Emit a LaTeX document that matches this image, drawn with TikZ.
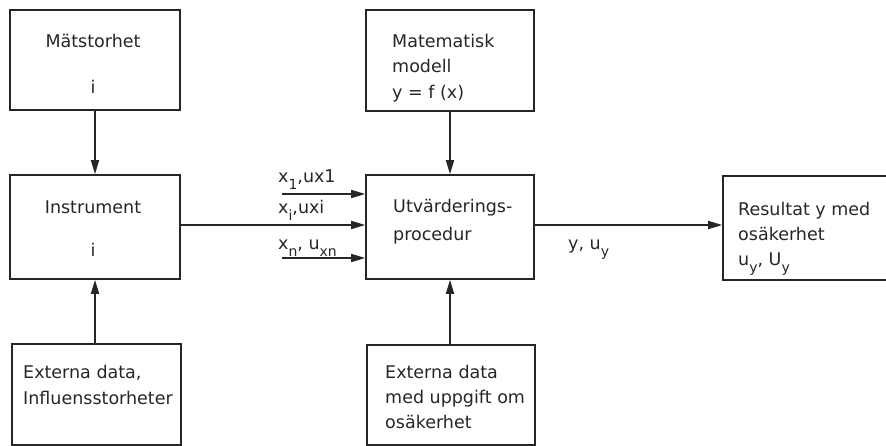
\documentclass[tikz,border=0pt]{standalone}
\usepackage{fontspec}
\setmainfont{DejaVu Sans}
\usetikzlibrary{arrows.meta, positioning}
\definecolor{ink}{HTML}{262626}
\newcommand{\lowidx}[1]{\raisebox{-0.4em}{\fontsize{14}{14}\selectfont #1}}

\begin{document}
\begin{tikzpicture}[x=1pt, y=-1pt,
    box/.style={draw=ink, line width=1.6pt, inner sep=0pt},
    txt/.style={font=\fontsize{17.5}{26}\selectfont, text=ink, inner sep=0pt,
        align=left, anchor=north west},
    lbl/.style={font=\fontsize{17.5}{20}\selectfont, text=ink, inner sep=0pt,
        anchor=base west},
    arr/.style={draw=ink, line width=1.6pt, -{Triangle[length=14pt,width=8pt]}}]
    \useasboundingbox (0,0) rectangle (886,446);
    \clip (0,0) rectangle (886,446);

    % left column
    \node[box, minimum width=170pt, minimum height=100pt] (mst) at (95,60) {};
    \node[box, minimum width=170pt, minimum height=104pt] (ins) at (95,227) {};
    \node[box, minimum width=169pt, minimum height=101pt] (extA) at (96.5,394.5) {};
    % middle column
    \node[box, minimum width=168pt, minimum height=101pt] (mod) at (450,60.5) {};
    \node[box, minimum width=168pt, minimum height=104pt] (utv) at (450,227) {};
    \node[box, minimum width=168pt, minimum height=100pt] (extB) at (451,395) {};
    % result box runs off the right edge
    \node[box, minimum width=182pt, minimum height=104pt] (res) at (814,228) {};

    \node[txt, align=center, anchor=north] (mstT) at (93,34) {Mätstorhet\\[20pt]i};
    \node[txt, align=center, anchor=north] (insT) at (93,201) {Instrument\\[17pt]i};
    \node[txt] (extAT) at (23,365) {Externa data,\\Influensstorheter};
    \node[txt, font=\fontsize{17.5}{25.5}\selectfont] (modT) at (392,34)
        {Matematisk\\modell\\y = f (x)};
    \node[txt, font=\fontsize{17.5}{28}\selectfont] (utvT) at (393,199)
        {Utvärderings-\\procedur};
    \node[txt, font=\fontsize{17.5}{25}\selectfont] (extBT) at (385,365)
        {Externa data\\med uppgift om\\osäkerhet};
    \node[txt, font=\fontsize{17.5}{25}\selectfont] (resT) at (738,202)
        {Resultat y med\\osäkerhet\\u\lowidx{y}, U\lowidx{y}};

    % inputs to the procedure
    \node[lbl] (x1L) at (278,183) {x\lowidx{1},ux1};
    \node[lbl] (xiL) at (278,214) {x\lowidx{i},uxi};
    \node[lbl] (xnL) at (278,250) {x\lowidx{n}, u\lowidx{xn}};
    \node[lbl] (yL) at (568,250) {y, u\lowidx{y}};

    \coordinate (x1s) at (282,194);
    \coordinate (xns) at (282,258);
    \draw[arr] (x1s) -- (x1s -| utv.west);
    \draw[arr] ([yshift=2pt]ins.east) -- ([yshift=2pt]utv.west);
    \draw[arr] (xns) -- (xns -| utv.west);

    \draw[arr] (mst) -- (ins);
    \draw[arr] (extA.north -| ins.south) -- (ins.south);
    \draw[arr] (mod) -- (utv);
    \draw[arr] (extB.north -| utv.south) -- (utv.south);
    \draw[arr] ([yshift=2pt]utv.east) -- ([yshift=2pt]utv.east -| res.west);

\end{tikzpicture}
\end{document}
